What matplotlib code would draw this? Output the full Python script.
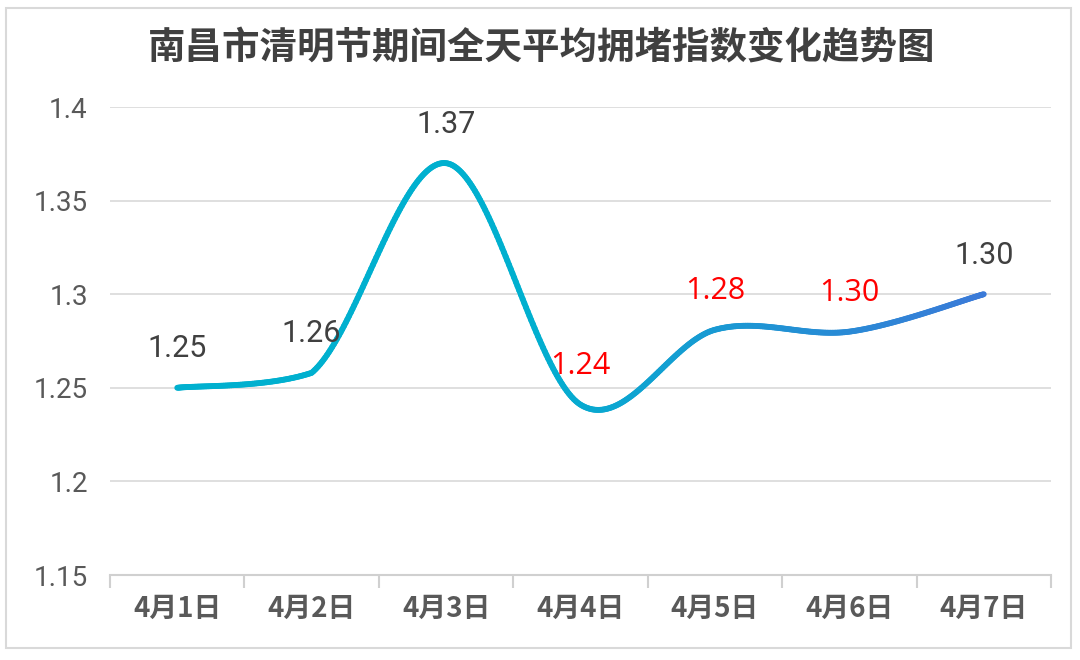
import numpy as np
import matplotlib
matplotlib.use("Agg")
import matplotlib.pyplot as plt
from matplotlib.collections import LineCollection
from matplotlib.colors import to_rgb
from matplotlib.patches import Rectangle

categories = ["4月1日", "4月2日", "4月3日", "4月4日", "4月5日", "4月6日", "4月7日"]
values = [1.25, 1.258, 1.37, 1.241, 1.281, 1.28, 1.30]
label_texts = ["1.25", "1.26", "1.37", "1.24", "1.28", "1.30", "1.30"]
label_colors = ["#404040", "#404040", "#404040", "#FF0000", "#FF0000", "#FF0000", "#404040"]
yticks = [1.15, 1.2, 1.25, 1.3, 1.35, 1.4]
ytick_labels = ["1.15", "1.2", "1.25", "1.3", "1.35", "1.4"]
title = "南昌市清明节期间全天平均拥堵指数变化趋势图"

CJK = ["Noto Sans CJK SC", "DejaVu Sans"]

fig = plt.figure(figsize=(10.8, 6.6), dpi=100)
fig.patch.set_facecolor("white")
fig.patches.append(Rectangle((6/1080, 1-648/660), 1065/1080, 640/660, transform=fig.transFigure,
                             fill=False, edgecolor="#d9d9d9", linewidth=1.5))

ax = fig.add_axes([110/1080, 1-575/660, 941/1080, 468/660])
ax.set_xlim(-0.5, len(categories)-0.5)
ax.set_ylim(1.15, 1.4)

# grid
for yv in yticks[1:]:
    ax.axhline(yv, color="#d9d9d9", linewidth=1.2, zorder=0)
for s in ["top", "right", "left"]:
    ax.spines[s].set_visible(False)
ax.spines["bottom"].set_color("#d0d0d0")
ax.spines["bottom"].set_linewidth(1.5)

# smoothed line (bezier; control points clamped only around monotone points)
x = np.arange(len(values), dtype=float)
y = np.array(values)
P = np.column_stack([x, y])
n = len(P)

def is_monotone(i):
    if i <= 0 or i >= n - 1:
        return False
    return (y[i-1] - y[i]) * (y[i+1] - y[i]) < 0

pts = []
for i in range(n-1):
    p0 = P[i-1] if i > 0 else P[i]
    p1 = P[i]
    p2 = P[i+1]
    p3 = P[i+2] if i+2 < n else P[i+1]
    c1 = p1 + (p2 - p0) / 6.0
    c2 = p2 - (p3 - p1) / 6.0
    lo, hi = min(p1[1], p2[1]), max(p1[1], p2[1])
    if is_monotone(i):
        c1[1] = np.clip(c1[1], lo, hi)
    if is_monotone(i+1):
        c2[1] = np.clip(c2[1], lo, hi)
    t = np.linspace(0, 1, 80)[:, None]
    seg = (1-t)**3*p1 + 3*(1-t)**2*t*c1 + 3*(1-t)*t**2*c2 + t**3*p2
    if i > 0:
        seg = seg[1:]
    pts.append(seg)
curve = np.vstack(pts)
segs = np.stack([curve[:-1], curve[1:]], axis=1)
c_start = np.array(to_rgb("#00B0CF"))
c_end = np.array(to_rgb("#3B7AD8"))
xm = (curve[:-1, 0] + curve[1:, 0]) / 2
f = np.clip((xm - 2.6) / (6 - 2.6), 0, 1)[:, None]
cols = c_start * (1 - f) + c_end * f
lc = LineCollection(segs, colors=cols, linewidths=4.2, capstyle="round", joinstyle="round", zorder=3)
ax.add_collection(lc)

# data labels
for i, (v, txt, col) in enumerate(zip(values, label_texts, label_colors)):
    if col == "#FF0000":
        fam, fs, fw = ["Open Sans", "DejaVu Sans"], 22, "medium"
    else:
        fam, fs, fw = ["Roboto", "DejaVu Sans"], 22, "normal"
    ax.annotate(txt, (i, v), xytext=(0, 28), textcoords="offset points",
                ha="center", va="center", fontsize=fs, fontweight=fw, color=col, family=fam, zorder=4)

# y axis
ax.set_yticks(yticks)
ax.set_yticklabels(ytick_labels, family=["Roboto", "DejaVu Sans"], fontsize=20, color="#595959")
ax.tick_params(axis="y", length=0, pad=16)

# x axis
ax.set_xticks(x)
ax.set_xticklabels(categories, family=CJK, fontsize=20, fontweight="bold", color="#595959")
ax.tick_params(axis="x", length=0, pad=14)
ax.set_xticks(np.arange(-0.5, len(categories), 1.0), minor=True)
ax.tick_params(axis="x", which="minor", length=9, width=1.5, color="#d0d0d0")

fig.text(542/1080, 1-48/660, title, ha="center", va="center", fontsize=27, fontweight="bold",
         color="#404040", family=CJK)

fig.savefig("out.png", dpi=100, facecolor="white")
